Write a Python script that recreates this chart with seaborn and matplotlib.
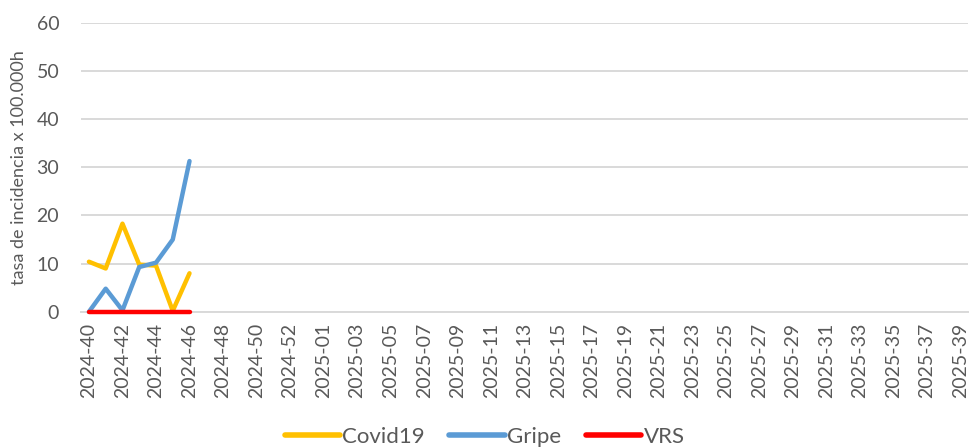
import seaborn as sns
import matplotlib.pyplot as plt
import pandas as pd

# semanas epidemiologicas (eje x)
weeks = [f"2024-{w}" for w in range(40, 54)] + [f"2025-{w:02d}" for w in range(1, 40)]

# semanas con datos
data_weeks = ["2024-40", "2024-41", "2024-42", "2024-43", "2024-44", "2024-45", "2024-46"]
covid = [10.4, 9.0, 18.3, 9.8, 9.6, 0.2, 8.0]
gripe = [0.0, 4.8, 0.3, 9.3, 10.2, 15.0, 31.3]
vrs = [0.0, 0.0, 0.0, 0.0, 0.0, 0.0, 0.0]

series = {"Covid19": covid, "Gripe": gripe, "VRS": vrs}
colors = {"Covid19": "#FFC000", "Gripe": "#5B9BD5", "VRS": "#FF0000"}

rows = []
for name, vals in series.items():
    for wk, v in zip(data_weeks, vals):
        rows.append({"semana": wk, "pos": weeks.index(wk), "serie": name, "tasa": v})
df = pd.DataFrame(rows)

sns.set_style("white")
plt.rcParams['font.family'] = ['Lato', 'DejaVu Sans']
grey = "#595959"

fig = plt.figure(figsize=(9.69, 4.48), dpi=100)
ax = fig.add_axes([0.084, 0.304, 0.915, 0.645])

sns.lineplot(data=df, x="pos", y="tasa", hue="serie", palette=colors,
             linewidth=3.2, ax=ax, legend=False, sort=False)
for ln in ax.lines:
    ln.set_clip_on(False)
    ln.set_zorder(3)

ax.set_xlim(-0.45, len(weeks) - 0.55)
ax.set_ylim(0, 60)
ax.set_yticks(range(0, 61, 10))
ax.set_xticks(range(0, len(weeks), 2))
ax.set_xticklabels(weeks[::2], rotation=90)
ax.tick_params(axis="both", length=0, colors=grey, labelsize=14)
ax.tick_params(axis="x", pad=8)
ax.tick_params(axis="y", pad=16)

ax.yaxis.grid(True, color="#D9D9D9", linewidth=1.4)
ax.set_axisbelow(True)
for s in ["top", "right", "left"]:
    ax.spines[s].set_visible(False)
ax.spines["bottom"].set_color("#D9D9D9")
ax.spines["bottom"].set_linewidth(1.4)
ax.spines["bottom"].set_zorder(1)

ax.set_xlabel("")
ax.set_ylabel("tasa de incidencia x 100.000h", color=grey, fontsize=13)
ax.yaxis.set_label_coords(-0.061, 0.5)

handles = [plt.Line2D([], [], color=colors[n], linewidth=4) for n in series]
fig.legend(handles, list(series.keys()), loc="center", bbox_to_anchor=(0.5, 0.025),
           ncol=3, frameon=False, fontsize=16, handlelength=2.5, handletextpad=0.1,
           columnspacing=1.1, labelcolor=grey)

fig.savefig("out.png", dpi=100)
